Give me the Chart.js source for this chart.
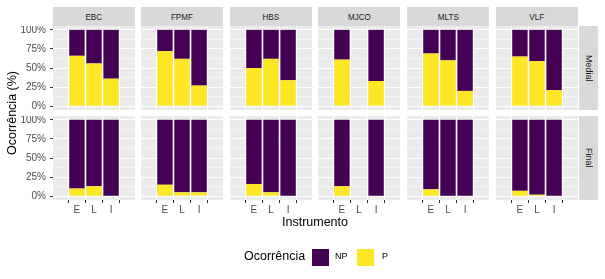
<!DOCTYPE html>
<html>
<head>
<meta charset="utf-8">
<script src="https://cdn.jsdelivr.net/npm/chart.js@4"></script>
<style>
body { margin: 0; background: #fff; width: 605px; height: 279px; position: relative; overflow: hidden;
       font-family: "Liberation Sans", Arial, sans-serif; }
canvas, .strip, .txt { position: absolute; }
.strip { background: #D9D9D9; color: #1A1A1A; font-size: 9.5px; display: flex; align-items: center; justify-content: center; }
.strip span { display: inline-block; transform: scaleX(0.85); }
.strip.right { writing-mode: vertical-rl; font-size: 9px; }
.strip.right span { transform: none; }
.txt { color: #000; white-space: nowrap; }
</style>
</head>
<body>
<script>
// facetas e categorias
const localidades = ["EBC", "FPMF", "HBS", "MJCO", "MLTS", "VLF"];
const periodos = ["Medial", "Final"];
const instrumentos = ["E", "L", "I"];
const yTicks = [0, 12.5, 25, 37.5, 50, 62.5, 75, 87.5, 100];

// % P (presença) por localidade, ordem E, L, I
const pMedial = [[66, 56, 36], [72, 62, 27], [50, 62, 34], [61, null, 33], [69, 60, 20], [65, 59, 21]];
const npMedial = [[34, 44, 64], [28, 38, 73], [50, 38, 66], [39, null, 67], [31, 40, 80], [35, 41, 79]];
const pFinal = [[10, 13, 0], [15, 5, 5], [16, 5, 0], [13, null, 0], [9, 0, 0], [7, 2, 0]];
const npFinal = [[90, 87, 100], [85, 95, 95], [84, 95, 100], [87, null, 100], [91, 100, 100], [93, 98, 100]];

const COR_P = "#FDE725", COR_NP = "#440154";

// layout dos painéis (estilo facet_grid)
const PANEL_L = [53, 141, 230, 318, 407, 496];
const PANEL_W = 82, PANEL_H = 84;
const ROW_T = [26, 116];
const AXIS_W = 53, AXIS_H = 20;

const fundoPainel = {
    id: "fundoPainel",
    beforeDraw(chart) {
        const a = chart.chartArea, ctx = chart.ctx;
        ctx.save();
        ctx.fillStyle = "#EBEBEB";
        ctx.fillRect(a.left, a.top, a.right - a.left, a.bottom - a.top);
        ctx.restore();
    }
};

function semPadding(s) {
    s.paddingTop = 0; s.paddingBottom = 0; s.paddingLeft = 0; s.paddingRight = 0;
}

function addDiv(cls, text, left, top, w, h, extra) {
    const d = document.createElement("div");
    d.className = cls;
    const sp = document.createElement("span");
    sp.textContent = text;
    d.appendChild(sp);
    Object.assign(d.style, { left: left + "px", top: top + "px", width: w + "px", height: h + "px" }, extra || {});
    document.body.appendChild(d);
    return d;
}

function painel(r, c) {
    const pRow = r === 0 ? pMedial : pFinal;
    const npRow = r === 0 ? npMedial : npFinal;
    const esq = c === 0, baixo = r === 1;

    const cv = document.createElement("canvas");
    const left = PANEL_L[c] - (esq ? AXIS_W : 0);
    const w = PANEL_W + (esq ? AXIS_W : 0);
    const h = PANEL_H + (baixo ? AXIS_H : 0);
    cv.width = w; cv.height = h;
    Object.assign(cv.style, { left: left + "px", top: ROW_T[r] + "px", width: w + "px", height: h + "px" });
    document.body.appendChild(cv);

    new Chart(cv, {
        type: "bar",
        data: {
            datasets: [
                { label: "P", data: instrumentos.map((k, i) => ({ x: i + 1, y: pRow[c][i] })), backgroundColor: COR_P },
                { label: "NP", data: instrumentos.map((k, i) => ({ x: i + 1, y: npRow[c][i] })), backgroundColor: COR_NP }
            ]
        },
        options: {
            responsive: false, animation: false,
            layout: { padding: 0, autoPadding: false },
            barPercentage: 0.9, categoryPercentage: 1,
            plugins: { legend: { display: false }, tooltip: { enabled: false } },
            scales: {
                x: {
                    type: "linear", min: 0.4, max: 3.6, stacked: true,
                    afterBuildTicks: s => { s.ticks = [1, 2, 3].map(v => ({ value: v })); },
                    afterFit: s => { s.height = baixo ? AXIS_H : 0; semPadding(s); },
                    border: { display: false },
                    grid: { color: "#FFFFFF", lineWidth: 1, tickLength: 3, tickColor: baixo ? "#333333" : "transparent" },
                    ticks: { display: baixo, color: "#4D4D4D", font: { family: "Liberation Sans", size: 10 },
                             padding: 1, maxRotation: 0, autoSkip: false, callback: v => instrumentos[v - 1] }
                },
                y: {
                    min: -5, max: 105, stacked: true,
                    afterBuildTicks: s => { s.ticks = yTicks.map(v => ({ value: v })); },
                    afterFit: s => { s.width = esq ? AXIS_W : 0; semPadding(s); },
                    border: { display: false },
                    grid: {
                        color: "#FFFFFF",
                        lineWidth: ctx => ctx.tick.value % 25 === 0 ? 1 : 0.5,
                        tickLength: 3,
                        tickColor: ctx => (esq && ctx.tick.value % 25 === 0) ? "#333333" : "transparent"
                    },
                    ticks: { display: esq, color: "#4D4D4D", font: { family: "Liberation Sans", size: 10 },
                             padding: 4, autoSkip: false, callback: v => v % 25 === 0 ? v + "%" : "" }
                }
            }
        },
        plugins: [fundoPainel]
    });
}

periodos.forEach((p, r) => localidades.forEach((l, c) => painel(r, c)));

// faixas (strips)
localidades.forEach((l, c) => addDiv("strip", l, PANEL_L[c], 7, PANEL_W, 19));
periodos.forEach((p, r) => addDiv("strip right", p, 579, ROW_T[r], 19, PANEL_H));

// títulos dos eixos
addDiv("txt", "Instrumento", 215, 215, 200, 16, { fontSize: "12.5px", textAlign: "center" });
addDiv("txt", "Ocorrência (%)", -87, 105, 200, 16, { fontSize: "12.5px", textAlign: "center", transform: "rotate(-90deg)" });

// legenda
addDiv("txt", "Ocorrência", 244, 249, 64, 16, { fontSize: "12.5px" });
addDiv("txt", "", 312, 249, 17, 17, { background: COR_NP });
addDiv("txt", "NP", 335, 251, 20, 12, { fontSize: "9px" });
addDiv("txt", "", 357, 249, 17, 17, { background: COR_P });
addDiv("txt", "P", 382, 251, 10, 12, { fontSize: "9px" });
</script>
</body>
</html>
